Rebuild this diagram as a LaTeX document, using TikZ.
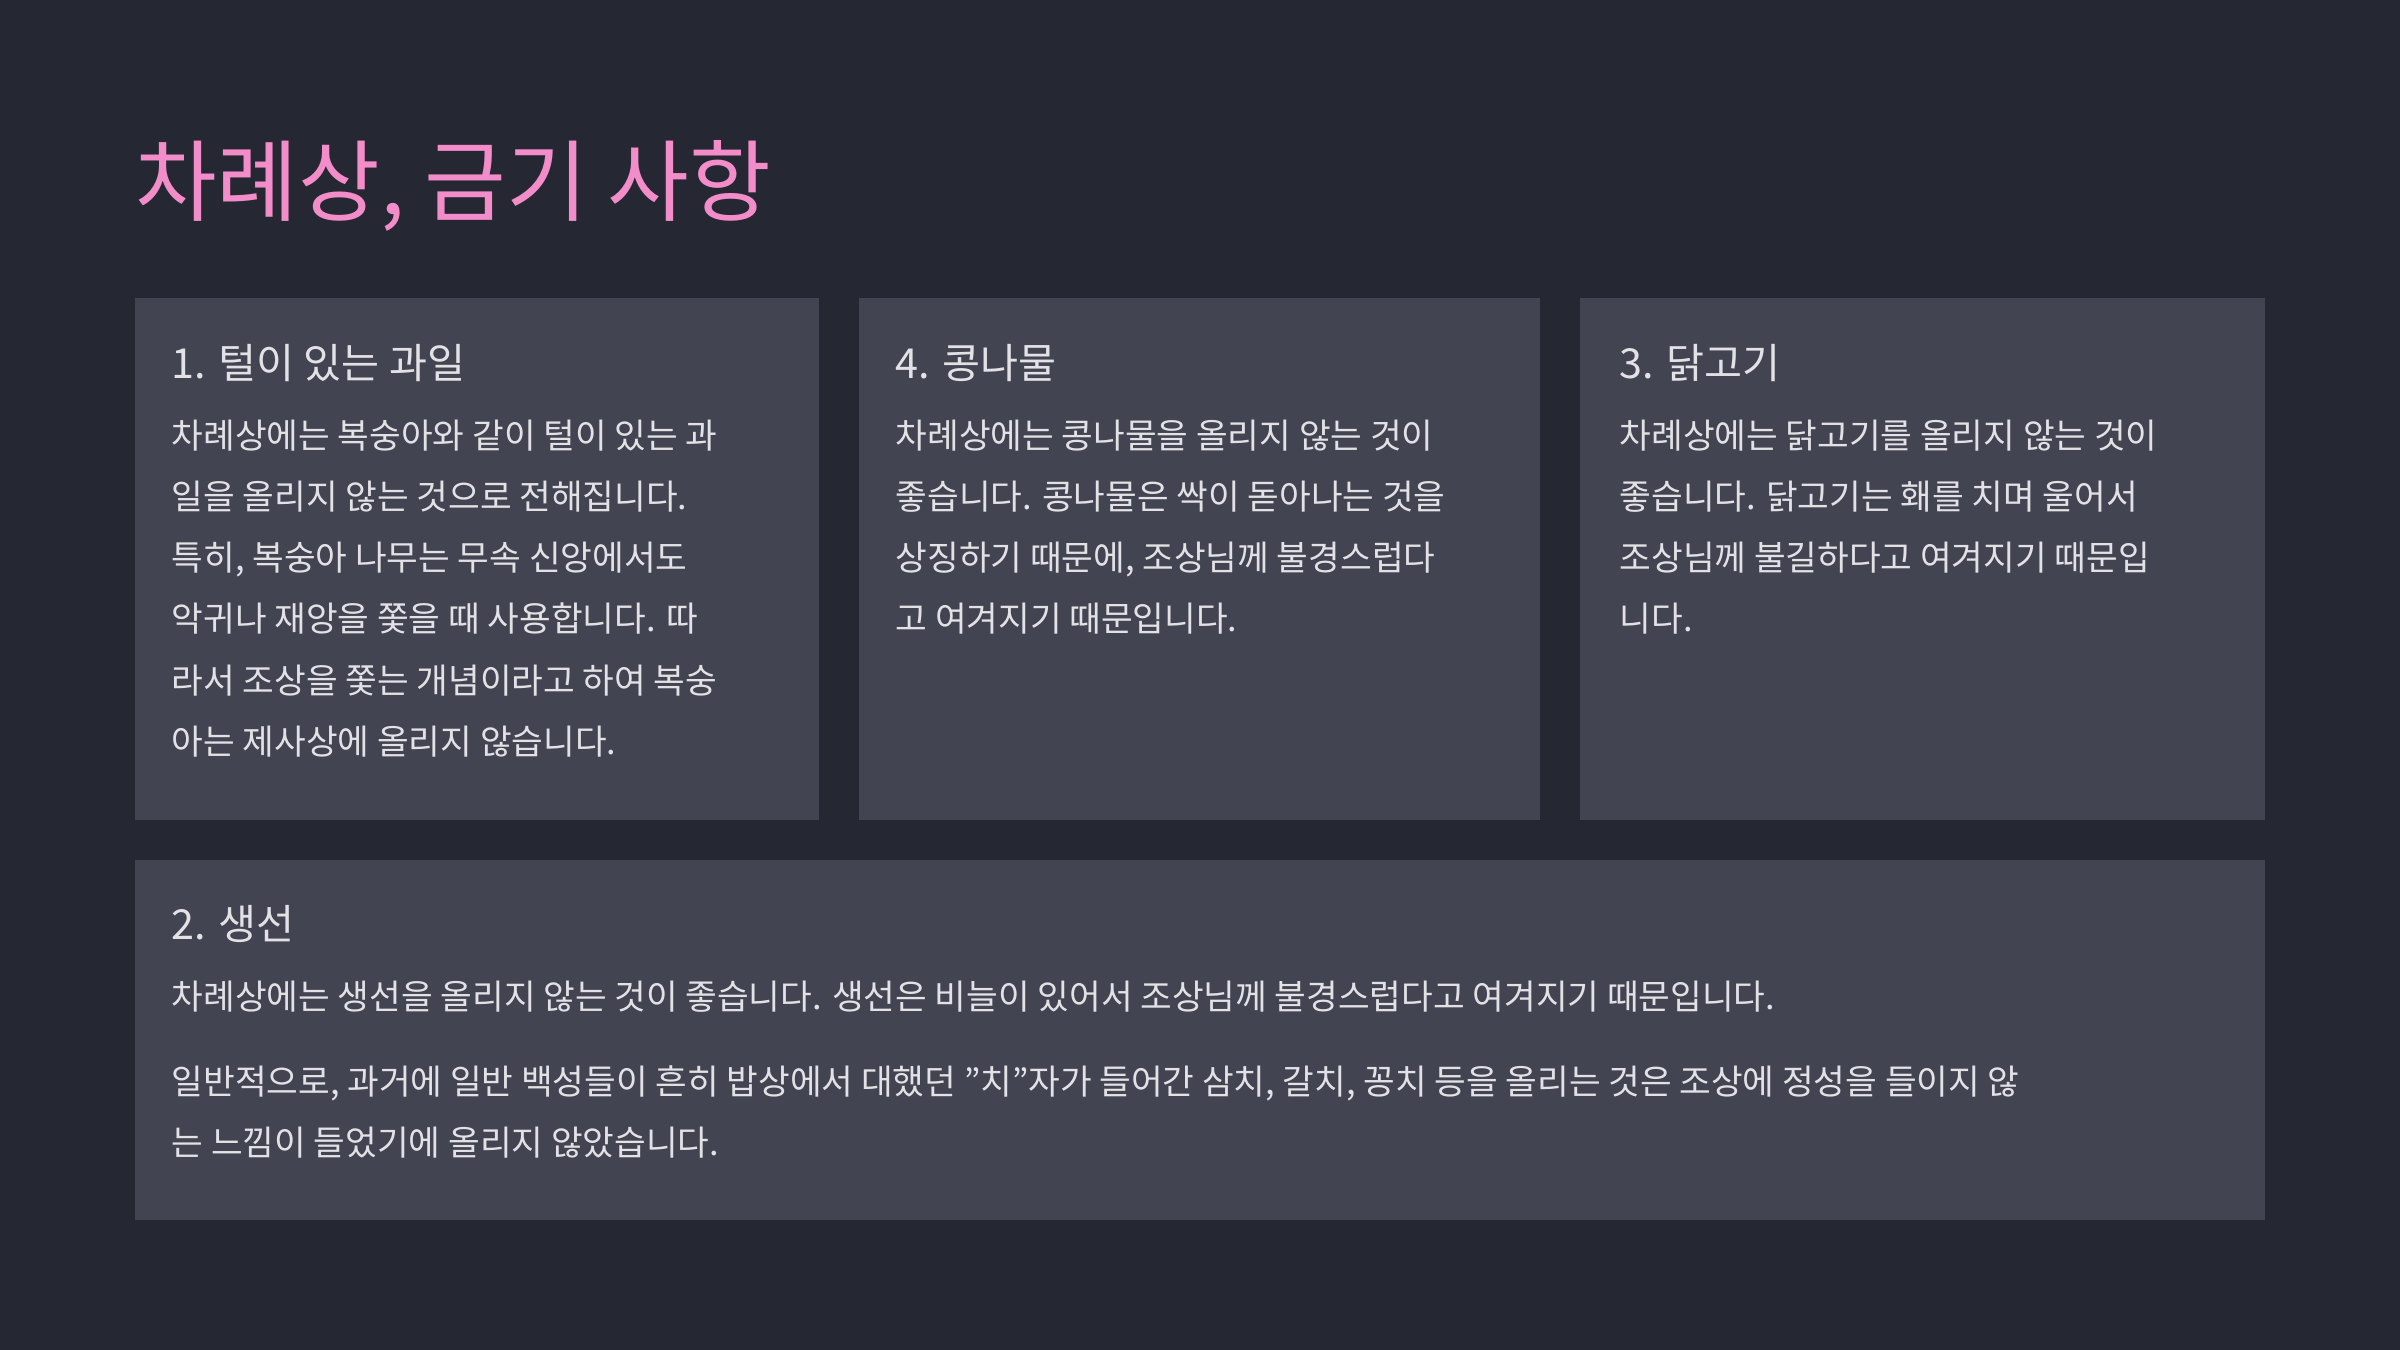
\documentclass[tikz,border=0pt]{standalone}
\usepackage{fontspec}
\setmainfont{Noto Sans CJK KR}
\definecolor{bg}{HTML}{252733}
\definecolor{card}{HTML}{434451}
\definecolor{pinkt}{HTML}{F28DC9}
\definecolor{txt}{HTML}{E2E2E6}
\tikzset{
 cardbox/.style={fill=card,draw=none},
 head/.style={anchor=base west,inner sep=0,text=txt,font=\fontsize{27}{32}\selectfont},
 body/.style={anchor=north west,inner sep=0,text=txt,align=left,font=\fontsize{22.5}{40}\selectfont},
}
\begin{document}
\begin{tikzpicture}[x=1pt,y=-1pt]
\fill[bg] (0,0) rectangle (1568,882);
\useasboundingbox (0,0) rectangle (1568,882);
\node[anchor=base west,inner sep=0,text=pinkt,font=\fontsize{58}{64}\selectfont] (title) at (88,140) {차례상, 금기 사항};
\fill[cardbox] (88,195) rectangle (535,536) coordinate (c1);
\fill[cardbox] (561,195) rectangle (1006,536) coordinate (c2);
\fill[cardbox] (1032,195) rectangle (1480,536) coordinate (c3);
\fill[cardbox] (88,562) rectangle (1480,797) coordinate (c4);
\node[head] (h1) at (112,247) {1. 털이 있는 과일};
\node[head] (h2) at (585,247) {4. 콩나물};
\node[head] (h3) at (1058,247) {3. 닭고기};
\node[head] (h4) at (112,614) {2. 생선};
\node[body] (b1) at (112,274) {차례상에는 복숭아와 같이 털이 있는  과\\일을 올리지 않는 것으로 전해집니다.\\특히, 복숭아 나무는 무속 신앙에서도\\악귀나 재앙을 쫓을 때 사용합니다. 따\\라서 조상을 쫓는 개념이라고 하여 복숭\\아는 제사상에 올리지 않습니다.};
\node[body] (b2) at (585,274) {차례상에는 콩나물을 올리지 않는 것이\\좋습니다. 콩나물은 싹이 돋아나는 것을\\상징하기 때문에, 조상님께 불경스럽다\\고 여겨지기 때문입니다.};
\node[body] (b3) at (1058,274) {차례상에는 닭고기를 올리지 않는 것이\\좋습니다. 닭고기는 홰를 치며 울어서\\조상님께 불길하다고 여겨지기 때문입\\니다.};
\node[body] (b4) at (112,641) {차례상에는 생선을 올리지 않는 것이 좋습니다. 생선은 비늘이 있어서 조상님께 불경스럽다고 여겨지기 때문입니다.};
\node[body] (b5) at (112,696) {일반적으로, 과거에 일반 백성들이 흔히 밥상에서 대했던 "치"자가 들어간 삼치, 갈치, 꽁치 등을 올리는 것은 조상에 정성을 들이지 않\\는 느낌이 들었기에 올리지 않았습니다.};
\end{tikzpicture}
\end{document}
